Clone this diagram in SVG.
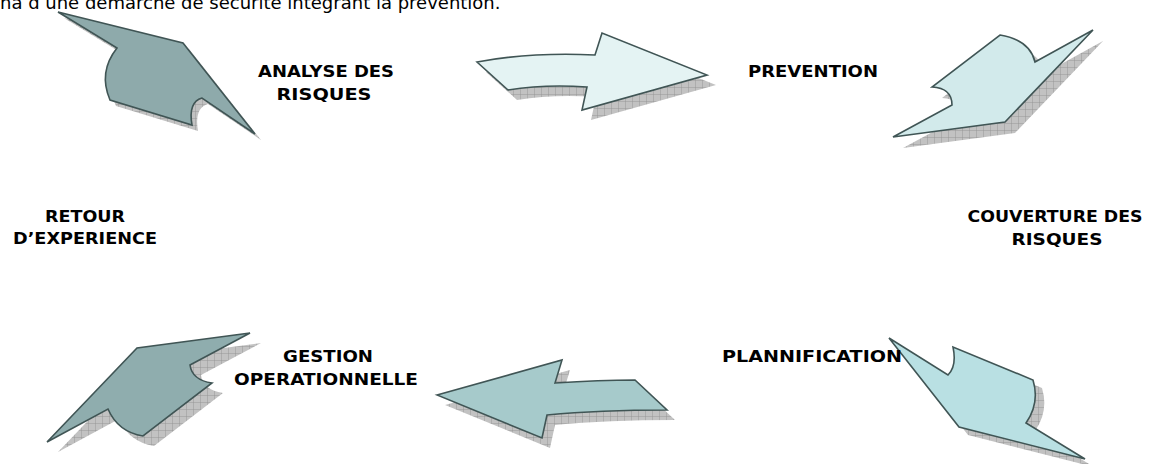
<svg xmlns="http://www.w3.org/2000/svg" width="1150" height="464" viewBox="0 0 1150 464">
<style>
.lbl{font-family:"DejaVu Sans","Liberation Sans",sans-serif;font-weight:bold;font-size:16.5px;fill:#000;text-anchor:middle}
.top{font-family:"DejaVu Sans","Liberation Sans",sans-serif;font-size:18px;fill:#000}
.arr{stroke:#405555;stroke-width:1.6;stroke-linejoin:miter}
.sh{fill:url(#hatch);stroke:none}
</style>
<defs>
<pattern id="hatch" width="7" height="7" patternUnits="userSpaceOnUse">
<rect width="7" height="7" fill="#c2c2c2"/>
<path d="M0 0H7M0 0V7" stroke="#8e8e8e" stroke-width="0.8"/>
</pattern>
</defs>
<text class="top" x="0" y="9">na d’une démarche de sécurité intégrant la prévention.</text>
<g id="connectors">
<g id="arrow-analyse">
<path class="sh" transform="translate(6,6)" d="M58,12 L183,43 L255,134 L202,98 Q188,102 192,125 L110,100 Q98,72 117,48 Z"/>
<path class="arr" fill="#8eaaab" d="M58,12 L183,43 L255,134 L202,98 Q188,102 192,125 L110,100 Q98,72 117,48 Z"/>
</g>
<g id="arrow-prevention">
<path class="sh" transform="translate(9,10)" d="M477,62 Q530,52 595,55 L602,33 L707,75 L582,110 L587,87 Q545,84 508,90 Z"/>
<path class="arr" fill="#e4f3f3" d="M477,62 Q530,52 595,55 L602,33 L707,75 L582,110 L587,87 Q545,84 508,90 Z"/>
</g>
<g id="arrow-couverture">
<path class="sh" transform="translate(10,11)" d="M1093,30 L1035,62 Q1030,40 1000,35 L932,87 Q952,88 952,105 L893,137 L1005,122 Z"/>
<path class="arr" fill="#d2eaeb" d="M1093,30 L1035,62 Q1030,40 1000,35 L932,87 Q952,88 952,105 L893,137 L1005,122 Z"/>
</g>
<g id="arrow-planification">
<path class="sh" transform="translate(9,8)" d="M889,338 L948,375 Q957,366 953,347 L1033,380 Q1040,403 1026,423 L1085,459 L959,427 Z"/>
<path class="arr" fill="#b9e0e3" d="M889,338 L948,375 Q957,366 953,347 L1033,380 Q1040,403 1026,423 L1085,459 L959,427 Z"/>
</g>
<g id="arrow-gestion">
<path class="sh" transform="translate(8,10)" d="M437,395 L562,360 L555,383 Q600,380 635,380 L667,410 Q600,410 547,415 L542,438 Z"/>
<path class="arr" fill="#a6cacb" d="M437,395 L562,360 L555,383 Q600,380 635,380 L667,410 Q600,410 547,415 L542,438 Z"/>
</g>
<g id="arrow-retour">
<path class="sh" transform="translate(11,10)" d="M47,442 L108,409 Q118,432 143,436 L212,383 Q192,380 190,365 L250,333 L137,348 Z"/>
<path class="arr" fill="#8fadae" d="M47,442 L108,409 Q118,432 143,436 L212,383 Q192,380 190,365 L250,333 L137,348 Z"/>
</g>
</g>
<g id="node-analyse"><text class="lbl" x="326" y="77" textLength="136" lengthAdjust="spacingAndGlyphs">ANALYSE DES</text><text class="lbl" x="324" y="100" textLength="95" lengthAdjust="spacingAndGlyphs">RISQUES</text></g>
<g id="node-prevention"><text class="lbl" x="813" y="77" textLength="130" lengthAdjust="spacingAndGlyphs">PREVENTION</text></g>
<g id="node-couverture"><text class="lbl" x="1055" y="222" textLength="175" lengthAdjust="spacingAndGlyphs">COUVERTURE DES</text><text class="lbl" x="1057" y="245" textLength="91" lengthAdjust="spacingAndGlyphs">RISQUES</text></g>
<g id="node-planification"><text class="lbl" x="812" y="362" textLength="180" lengthAdjust="spacingAndGlyphs">PLANNIFICATION</text></g>
<g id="node-gestion"><text class="lbl" x="328" y="362" textLength="90" lengthAdjust="spacingAndGlyphs">GESTION</text><text class="lbl" x="326" y="385" textLength="184" lengthAdjust="spacingAndGlyphs">OPERATIONNELLE</text></g>
<g id="node-retour"><text class="lbl" x="85" y="222" textLength="80" lengthAdjust="spacingAndGlyphs">RETOUR</text><text class="lbl" x="85" y="244" textLength="144" lengthAdjust="spacingAndGlyphs">D’EXPERIENCE</text></g>
</svg>
